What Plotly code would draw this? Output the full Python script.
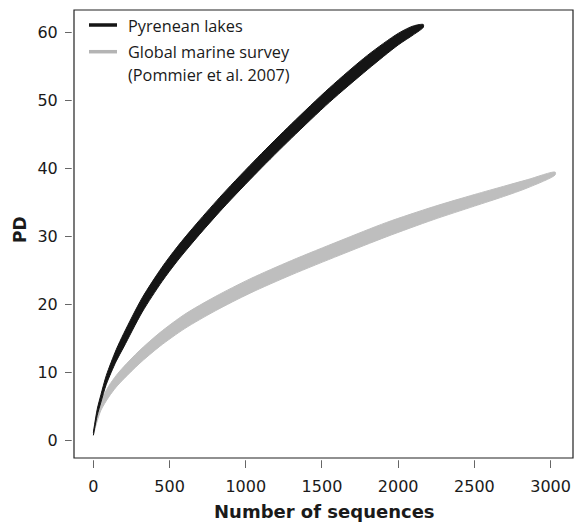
import plotly.graph_objects as go

# Rarefaction of phylogenetic diversity (PD) against number of sequences.
# Each cloud is drawn as a band between its upper and lower envelope.

seq_lakes = [0, 25, 50, 85, 150, 200, 320, 450, 550, 680, 850, 1080, 1300, 1550, 1800, 2000, 2100, 2165]
pd_lakes_upper = [1.2, 4.6, 6.8, 9.6, 13.4, 15.8, 21.0, 25.5, 28.5, 32.0, 36.3, 41.7, 46.6, 51.9, 56.7, 59.9, 61.0, 61.2]
pd_lakes_lower = [0.8, 3.7, 5.7, 8.3, 11.7, 13.8, 18.9, 23.4, 26.4, 29.9, 34.2, 39.6, 44.5, 49.8, 54.6, 58.2, 59.7, 60.8]

seq_marine = [0, 20, 50, 100, 150, 200, 300, 437, 600, 800, 1028, 1300, 1618, 1924, 2230, 2500, 2690, 2850, 3030]
pd_marine_upper = [1.2, 3.5, 5.8, 8.0, 9.6, 10.9, 13.2, 15.9, 18.6, 21.2, 23.8, 26.5, 29.4, 32.1, 34.4, 36.2, 37.4, 38.4, 39.5]
pd_marine_lower = [0.8, 2.5, 4.5, 6.4, 7.9, 9.1, 11.3, 13.9, 16.5, 19.1, 21.7, 24.4, 27.3, 30.0, 32.5, 34.5, 35.9, 37.2, 39.1]

x_ticks = [0, 500, 1000, 1500, 2000, 2500, 3000]
y_ticks = [0, 10, 20, 30, 40, 50, 60]

series_names = ["Pyrenean lakes", "Global marine survey", "(Pommier et al. 2007)"]
x_title = "Number of sequences"
y_title = "PD"

LAKE_COLOR = "#151515"
MARINE_COLOR = "#bebebe"
TEXT_COLOR = "#1a1a1a"

W, H = 574, 522
ML, MR, MT, MB = 74, 1, 10, 64
PW, PH = W - ML - MR, H - MT - MB


def px_x(p):
    return (p - ML) / PW


def px_y(p):
    return (H - MB - p) / PH


fig = go.Figure()


def add_band(x, lo, hi, color):
    fig.add_trace(go.Scatter(
        x=list(x) + list(x)[::-1],
        y=list(hi) + list(lo)[::-1],
        fill="toself", fillcolor=color,
        mode="lines", line=dict(color=color, width=1, shape="spline", smoothing=0.8),
        hoverinfo="skip", showlegend=False,
    ))


add_band(seq_marine, pd_marine_lower, pd_marine_upper, MARINE_COLOR)
add_band(seq_lakes, pd_lakes_lower, pd_lakes_upper, LAKE_COLOR)

tick_font = dict(family="DejaVu Sans", size=16, color=TEXT_COLOR)

fig.update_layout(
    width=W, height=H,
    margin=dict(l=ML, r=MR, t=MT, b=MB),
    paper_bgcolor="white", plot_bgcolor="white",
    xaxis=dict(
        range=[-127, 3147], tickmode="array", tickvals=x_ticks,
        ticktext=[str(v) for v in x_ticks],
        ticks="outside", ticklen=9, tickwidth=1, tickcolor="#666",
        showline=False, showgrid=False, zeroline=False,
        tickfont=tick_font, ticklabelstandoff=5,
    ),
    yaxis=dict(
        range=[-2.54, 63.34], tickmode="array", tickvals=y_ticks,
        ticktext=[str(v) for v in y_ticks],
        ticks="outside", ticklen=8, tickwidth=1, tickcolor="#666",
        showline=False, showgrid=False, zeroline=False,
        tickfont=tick_font, ticklabelstandoff=4,
    ),
)

shapes = [
    # small gap between the frame and the tick marks
    dict(type="rect", xref="paper", yref="paper", x0=-0.01, x1=1.01,
         y0=-2.3 / PH, y1=-0.6 / PH, fillcolor="white", line=dict(width=0), layer="above"),
    dict(type="rect", xref="paper", yref="paper", x0=-2.3 / PW, x1=-0.6 / PW,
         y0=-0.01, y1=1.01, fillcolor="white", line=dict(width=0), layer="above"),
    # plot frame
    dict(type="rect", xref="paper", yref="paper", x0=0, x1=1, y0=0, y1=1,
         line=dict(color="#222", width=1.2), layer="above"),
    # legend keys
    dict(type="line", xref="paper", yref="paper", x0=px_x(89), x1=px_x(117),
         y0=px_y(25), y1=px_y(25), line=dict(color=LAKE_COLOR, width=3.5)),
    dict(type="line", xref="paper", yref="paper", x0=px_x(89), x1=px_x(117),
         y0=px_y(51.7), y1=px_y(51.7), line=dict(color="#b4b4b4", width=3.5)),
]

legend_font = dict(family="Open Sans", size=16.3, color=TEXT_COLOR)
annotations = [
    dict(text=series_names[0], x=px_x(126), y=px_y(25.5), xref="paper", yref="paper",
         xanchor="left", yanchor="middle", showarrow=False, font=legend_font),
    dict(text=series_names[1], x=px_x(126), y=px_y(52.3), xref="paper", yref="paper",
         xanchor="left", yanchor="middle", showarrow=False, font=legend_font),
    dict(text=series_names[2], x=px_x(126), y=px_y(75), xref="paper", yref="paper",
         xanchor="left", yanchor="middle", showarrow=False, font=legend_font),
    dict(text="<b>%s</b>" % x_title, x=px_x(324.5), y=px_y(512), xref="paper", yref="paper",
         xanchor="center", yanchor="middle", showarrow=False,
         font=dict(family="DejaVu Sans", size=18, color=TEXT_COLOR)),
    dict(text="<b>%s</b>" % y_title, x=px_x(20), y=px_y(230), xref="paper", yref="paper",
         xanchor="center", yanchor="middle", textangle=-90, showarrow=False,
         font=dict(family="DejaVu Sans", size=17, color=TEXT_COLOR)),
]

fig.update_layout(shapes=shapes, annotations=annotations)

fig.write_html("out.html")
